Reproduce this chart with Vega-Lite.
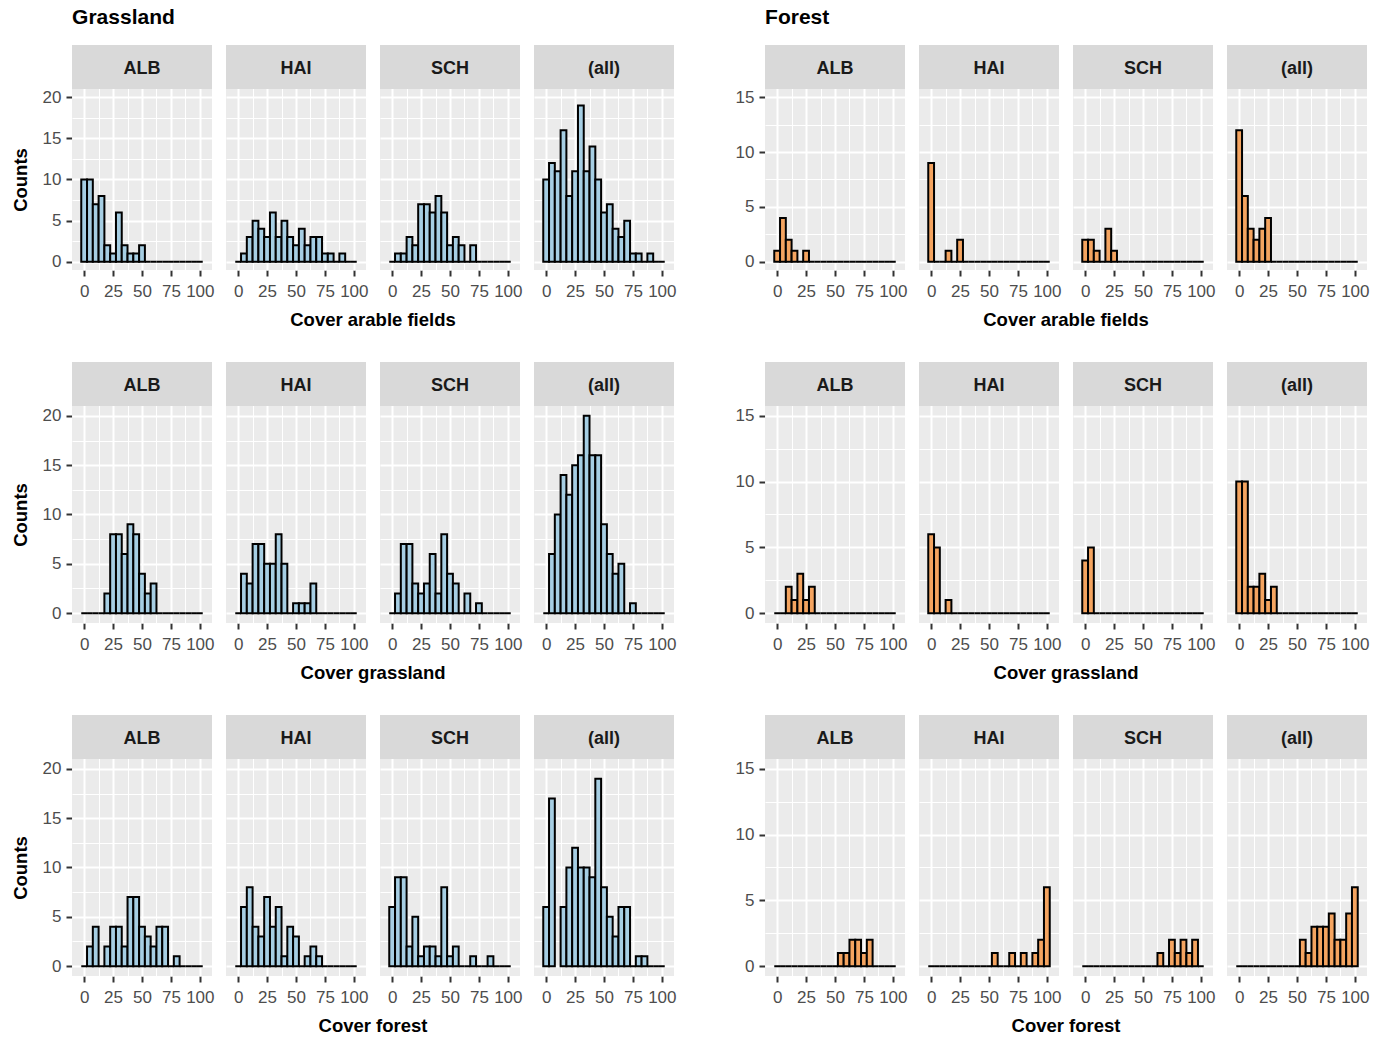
{
"$schema": "https://vega.github.io/schema/vega-lite/v6.json",
"padding": {"left": 11, "top": 7, "right": 5, "bottom": 5},
"data": {"values": [
{"plot":"Grassland","var":"arable","lo":-2.5,"hi":2.5,"ALB":10,"HAI":0,"SCH":0,"(all)":10},
{"plot":"Grassland","var":"arable","lo":2.5,"hi":7.5,"ALB":10,"HAI":1,"SCH":1,"(all)":12},
{"plot":"Grassland","var":"arable","lo":7.5,"hi":12.5,"ALB":7,"HAI":3,"SCH":1,"(all)":11},
{"plot":"Grassland","var":"arable","lo":12.5,"hi":17.5,"ALB":8,"HAI":5,"SCH":3,"(all)":16},
{"plot":"Grassland","var":"arable","lo":17.5,"hi":22.5,"ALB":2,"HAI":4,"SCH":2,"(all)":8},
{"plot":"Grassland","var":"arable","lo":22.5,"hi":27.5,"ALB":1,"HAI":3,"SCH":7,"(all)":11},
{"plot":"Grassland","var":"arable","lo":27.5,"hi":32.5,"ALB":6,"HAI":6,"SCH":7,"(all)":19},
{"plot":"Grassland","var":"arable","lo":32.5,"hi":37.5,"ALB":2,"HAI":3,"SCH":6,"(all)":11},
{"plot":"Grassland","var":"arable","lo":37.5,"hi":42.5,"ALB":1,"HAI":5,"SCH":8,"(all)":14},
{"plot":"Grassland","var":"arable","lo":42.5,"hi":47.5,"ALB":1,"HAI":3,"SCH":6,"(all)":10},
{"plot":"Grassland","var":"arable","lo":47.5,"hi":52.5,"ALB":2,"HAI":2,"SCH":2,"(all)":6},
{"plot":"Grassland","var":"arable","lo":52.5,"hi":57.5,"ALB":0,"HAI":4,"SCH":3,"(all)":7},
{"plot":"Grassland","var":"arable","lo":57.5,"hi":62.5,"ALB":0,"HAI":2,"SCH":2,"(all)":4},
{"plot":"Grassland","var":"arable","lo":62.5,"hi":67.5,"ALB":0,"HAI":3,"SCH":0,"(all)":3},
{"plot":"Grassland","var":"arable","lo":67.5,"hi":72.5,"ALB":0,"HAI":3,"SCH":2,"(all)":5},
{"plot":"Grassland","var":"arable","lo":72.5,"hi":77.5,"ALB":0,"HAI":1,"SCH":0,"(all)":1},
{"plot":"Grassland","var":"arable","lo":77.5,"hi":82.5,"ALB":0,"HAI":1,"SCH":0,"(all)":1},
{"plot":"Grassland","var":"arable","lo":82.5,"hi":87.5,"ALB":0,"HAI":0,"SCH":0,"(all)":0},
{"plot":"Grassland","var":"arable","lo":87.5,"hi":92.5,"ALB":0,"HAI":1,"SCH":0,"(all)":1},
{"plot":"Grassland","var":"arable","lo":92.5,"hi":97.5,"ALB":0,"HAI":0,"SCH":0,"(all)":0},
{"plot":"Grassland","var":"arable","lo":97.5,"hi":102.5,"ALB":0,"HAI":0,"SCH":0,"(all)":0},
{"plot":"Grassland","var":"grassland","lo":-2.5,"hi":2.5,"ALB":0,"HAI":0,"SCH":0,"(all)":0},
{"plot":"Grassland","var":"grassland","lo":2.5,"hi":7.5,"ALB":0,"HAI":4,"SCH":2,"(all)":6},
{"plot":"Grassland","var":"grassland","lo":7.5,"hi":12.5,"ALB":0,"HAI":3,"SCH":7,"(all)":10},
{"plot":"Grassland","var":"grassland","lo":12.5,"hi":17.5,"ALB":0,"HAI":7,"SCH":7,"(all)":14},
{"plot":"Grassland","var":"grassland","lo":17.5,"hi":22.5,"ALB":2,"HAI":7,"SCH":3,"(all)":12},
{"plot":"Grassland","var":"grassland","lo":22.5,"hi":27.5,"ALB":8,"HAI":5,"SCH":2,"(all)":15},
{"plot":"Grassland","var":"grassland","lo":27.5,"hi":32.5,"ALB":8,"HAI":5,"SCH":3,"(all)":16},
{"plot":"Grassland","var":"grassland","lo":32.5,"hi":37.5,"ALB":6,"HAI":8,"SCH":6,"(all)":20},
{"plot":"Grassland","var":"grassland","lo":37.5,"hi":42.5,"ALB":9,"HAI":5,"SCH":2,"(all)":16},
{"plot":"Grassland","var":"grassland","lo":42.5,"hi":47.5,"ALB":8,"HAI":0,"SCH":8,"(all)":16},
{"plot":"Grassland","var":"grassland","lo":47.5,"hi":52.5,"ALB":4,"HAI":1,"SCH":4,"(all)":9},
{"plot":"Grassland","var":"grassland","lo":52.5,"hi":57.5,"ALB":2,"HAI":1,"SCH":3,"(all)":6},
{"plot":"Grassland","var":"grassland","lo":57.5,"hi":62.5,"ALB":3,"HAI":1,"SCH":0,"(all)":4},
{"plot":"Grassland","var":"grassland","lo":62.5,"hi":67.5,"ALB":0,"HAI":3,"SCH":2,"(all)":5},
{"plot":"Grassland","var":"grassland","lo":67.5,"hi":72.5,"ALB":0,"HAI":0,"SCH":0,"(all)":0},
{"plot":"Grassland","var":"grassland","lo":72.5,"hi":77.5,"ALB":0,"HAI":0,"SCH":1,"(all)":1},
{"plot":"Grassland","var":"grassland","lo":77.5,"hi":82.5,"ALB":0,"HAI":0,"SCH":0,"(all)":0},
{"plot":"Grassland","var":"grassland","lo":82.5,"hi":87.5,"ALB":0,"HAI":0,"SCH":0,"(all)":0},
{"plot":"Grassland","var":"grassland","lo":87.5,"hi":92.5,"ALB":0,"HAI":0,"SCH":0,"(all)":0},
{"plot":"Grassland","var":"grassland","lo":92.5,"hi":97.5,"ALB":0,"HAI":0,"SCH":0,"(all)":0},
{"plot":"Grassland","var":"grassland","lo":97.5,"hi":102.5,"ALB":0,"HAI":0,"SCH":0,"(all)":0},
{"plot":"Grassland","var":"forest","lo":-2.5,"hi":2.5,"ALB":0,"HAI":0,"SCH":6,"(all)":6},
{"plot":"Grassland","var":"forest","lo":2.5,"hi":7.5,"ALB":2,"HAI":6,"SCH":9,"(all)":17},
{"plot":"Grassland","var":"forest","lo":7.5,"hi":12.5,"ALB":4,"HAI":8,"SCH":9,"(all)":21},
{"plot":"Grassland","var":"forest","lo":12.5,"hi":17.5,"ALB":0,"HAI":4,"SCH":2,"(all)":6},
{"plot":"Grassland","var":"forest","lo":17.5,"hi":22.5,"ALB":2,"HAI":3,"SCH":5,"(all)":10},
{"plot":"Grassland","var":"forest","lo":22.5,"hi":27.5,"ALB":4,"HAI":7,"SCH":1,"(all)":12},
{"plot":"Grassland","var":"forest","lo":27.5,"hi":32.5,"ALB":4,"HAI":4,"SCH":2,"(all)":10},
{"plot":"Grassland","var":"forest","lo":32.5,"hi":37.5,"ALB":2,"HAI":6,"SCH":2,"(all)":10},
{"plot":"Grassland","var":"forest","lo":37.5,"hi":42.5,"ALB":7,"HAI":1,"SCH":1,"(all)":9},
{"plot":"Grassland","var":"forest","lo":42.5,"hi":47.5,"ALB":7,"HAI":4,"SCH":8,"(all)":19},
{"plot":"Grassland","var":"forest","lo":47.5,"hi":52.5,"ALB":4,"HAI":3,"SCH":1,"(all)":8},
{"plot":"Grassland","var":"forest","lo":52.5,"hi":57.5,"ALB":3,"HAI":0,"SCH":2,"(all)":5},
{"plot":"Grassland","var":"forest","lo":57.5,"hi":62.5,"ALB":2,"HAI":1,"SCH":0,"(all)":3},
{"plot":"Grassland","var":"forest","lo":62.5,"hi":67.5,"ALB":4,"HAI":2,"SCH":0,"(all)":6},
{"plot":"Grassland","var":"forest","lo":67.5,"hi":72.5,"ALB":4,"HAI":1,"SCH":1,"(all)":6},
{"plot":"Grassland","var":"forest","lo":72.5,"hi":77.5,"ALB":0,"HAI":0,"SCH":0,"(all)":0},
{"plot":"Grassland","var":"forest","lo":77.5,"hi":82.5,"ALB":1,"HAI":0,"SCH":0,"(all)":1},
{"plot":"Grassland","var":"forest","lo":82.5,"hi":87.5,"ALB":0,"HAI":0,"SCH":1,"(all)":1},
{"plot":"Grassland","var":"forest","lo":87.5,"hi":92.5,"ALB":0,"HAI":0,"SCH":0,"(all)":0},
{"plot":"Grassland","var":"forest","lo":92.5,"hi":97.5,"ALB":0,"HAI":0,"SCH":0,"(all)":0},
{"plot":"Grassland","var":"forest","lo":97.5,"hi":102.5,"ALB":0,"HAI":0,"SCH":0,"(all)":0},
{"plot":"Forest","var":"arable","lo":-2.5,"hi":2.5,"ALB":1,"HAI":9,"SCH":2,"(all)":12},
{"plot":"Forest","var":"arable","lo":2.5,"hi":7.5,"ALB":4,"HAI":0,"SCH":2,"(all)":6},
{"plot":"Forest","var":"arable","lo":7.5,"hi":12.5,"ALB":2,"HAI":0,"SCH":1,"(all)":3},
{"plot":"Forest","var":"arable","lo":12.5,"hi":17.5,"ALB":1,"HAI":1,"SCH":0,"(all)":2},
{"plot":"Forest","var":"arable","lo":17.5,"hi":22.5,"ALB":0,"HAI":0,"SCH":3,"(all)":3},
{"plot":"Forest","var":"arable","lo":22.5,"hi":27.5,"ALB":1,"HAI":2,"SCH":1,"(all)":4},
{"plot":"Forest","var":"arable","lo":27.5,"hi":32.5,"ALB":0,"HAI":0,"SCH":0,"(all)":0},
{"plot":"Forest","var":"arable","lo":32.5,"hi":37.5,"ALB":0,"HAI":0,"SCH":0,"(all)":0},
{"plot":"Forest","var":"arable","lo":37.5,"hi":42.5,"ALB":0,"HAI":0,"SCH":0,"(all)":0},
{"plot":"Forest","var":"arable","lo":42.5,"hi":47.5,"ALB":0,"HAI":0,"SCH":0,"(all)":0},
{"plot":"Forest","var":"arable","lo":47.5,"hi":52.5,"ALB":0,"HAI":0,"SCH":0,"(all)":0},
{"plot":"Forest","var":"arable","lo":52.5,"hi":57.5,"ALB":0,"HAI":0,"SCH":0,"(all)":0},
{"plot":"Forest","var":"arable","lo":57.5,"hi":62.5,"ALB":0,"HAI":0,"SCH":0,"(all)":0},
{"plot":"Forest","var":"arable","lo":62.5,"hi":67.5,"ALB":0,"HAI":0,"SCH":0,"(all)":0},
{"plot":"Forest","var":"arable","lo":67.5,"hi":72.5,"ALB":0,"HAI":0,"SCH":0,"(all)":0},
{"plot":"Forest","var":"arable","lo":72.5,"hi":77.5,"ALB":0,"HAI":0,"SCH":0,"(all)":0},
{"plot":"Forest","var":"arable","lo":77.5,"hi":82.5,"ALB":0,"HAI":0,"SCH":0,"(all)":0},
{"plot":"Forest","var":"arable","lo":82.5,"hi":87.5,"ALB":0,"HAI":0,"SCH":0,"(all)":0},
{"plot":"Forest","var":"arable","lo":87.5,"hi":92.5,"ALB":0,"HAI":0,"SCH":0,"(all)":0},
{"plot":"Forest","var":"arable","lo":92.5,"hi":97.5,"ALB":0,"HAI":0,"SCH":0,"(all)":0},
{"plot":"Forest","var":"arable","lo":97.5,"hi":102.5,"ALB":0,"HAI":0,"SCH":0,"(all)":0},
{"plot":"Forest","var":"grassland","lo":-2.5,"hi":2.5,"ALB":0,"HAI":6,"SCH":4,"(all)":10},
{"plot":"Forest","var":"grassland","lo":2.5,"hi":7.5,"ALB":0,"HAI":5,"SCH":5,"(all)":10},
{"plot":"Forest","var":"grassland","lo":7.5,"hi":12.5,"ALB":2,"HAI":0,"SCH":0,"(all)":2},
{"plot":"Forest","var":"grassland","lo":12.5,"hi":17.5,"ALB":1,"HAI":1,"SCH":0,"(all)":2},
{"plot":"Forest","var":"grassland","lo":17.5,"hi":22.5,"ALB":3,"HAI":0,"SCH":0,"(all)":3},
{"plot":"Forest","var":"grassland","lo":22.5,"hi":27.5,"ALB":1,"HAI":0,"SCH":0,"(all)":1},
{"plot":"Forest","var":"grassland","lo":27.5,"hi":32.5,"ALB":2,"HAI":0,"SCH":0,"(all)":2},
{"plot":"Forest","var":"grassland","lo":32.5,"hi":37.5,"ALB":0,"HAI":0,"SCH":0,"(all)":0},
{"plot":"Forest","var":"grassland","lo":37.5,"hi":42.5,"ALB":0,"HAI":0,"SCH":0,"(all)":0},
{"plot":"Forest","var":"grassland","lo":42.5,"hi":47.5,"ALB":0,"HAI":0,"SCH":0,"(all)":0},
{"plot":"Forest","var":"grassland","lo":47.5,"hi":52.5,"ALB":0,"HAI":0,"SCH":0,"(all)":0},
{"plot":"Forest","var":"grassland","lo":52.5,"hi":57.5,"ALB":0,"HAI":0,"SCH":0,"(all)":0},
{"plot":"Forest","var":"grassland","lo":57.5,"hi":62.5,"ALB":0,"HAI":0,"SCH":0,"(all)":0},
{"plot":"Forest","var":"grassland","lo":62.5,"hi":67.5,"ALB":0,"HAI":0,"SCH":0,"(all)":0},
{"plot":"Forest","var":"grassland","lo":67.5,"hi":72.5,"ALB":0,"HAI":0,"SCH":0,"(all)":0},
{"plot":"Forest","var":"grassland","lo":72.5,"hi":77.5,"ALB":0,"HAI":0,"SCH":0,"(all)":0},
{"plot":"Forest","var":"grassland","lo":77.5,"hi":82.5,"ALB":0,"HAI":0,"SCH":0,"(all)":0},
{"plot":"Forest","var":"grassland","lo":82.5,"hi":87.5,"ALB":0,"HAI":0,"SCH":0,"(all)":0},
{"plot":"Forest","var":"grassland","lo":87.5,"hi":92.5,"ALB":0,"HAI":0,"SCH":0,"(all)":0},
{"plot":"Forest","var":"grassland","lo":92.5,"hi":97.5,"ALB":0,"HAI":0,"SCH":0,"(all)":0},
{"plot":"Forest","var":"grassland","lo":97.5,"hi":102.5,"ALB":0,"HAI":0,"SCH":0,"(all)":0},
{"plot":"Forest","var":"forest","lo":-2.5,"hi":2.5,"ALB":0,"HAI":0,"SCH":0,"(all)":0},
{"plot":"Forest","var":"forest","lo":2.5,"hi":7.5,"ALB":0,"HAI":0,"SCH":0,"(all)":0},
{"plot":"Forest","var":"forest","lo":7.5,"hi":12.5,"ALB":0,"HAI":0,"SCH":0,"(all)":0},
{"plot":"Forest","var":"forest","lo":12.5,"hi":17.5,"ALB":0,"HAI":0,"SCH":0,"(all)":0},
{"plot":"Forest","var":"forest","lo":17.5,"hi":22.5,"ALB":0,"HAI":0,"SCH":0,"(all)":0},
{"plot":"Forest","var":"forest","lo":22.5,"hi":27.5,"ALB":0,"HAI":0,"SCH":0,"(all)":0},
{"plot":"Forest","var":"forest","lo":27.5,"hi":32.5,"ALB":0,"HAI":0,"SCH":0,"(all)":0},
{"plot":"Forest","var":"forest","lo":32.5,"hi":37.5,"ALB":0,"HAI":0,"SCH":0,"(all)":0},
{"plot":"Forest","var":"forest","lo":37.5,"hi":42.5,"ALB":0,"HAI":0,"SCH":0,"(all)":0},
{"plot":"Forest","var":"forest","lo":42.5,"hi":47.5,"ALB":0,"HAI":0,"SCH":0,"(all)":0},
{"plot":"Forest","var":"forest","lo":47.5,"hi":52.5,"ALB":0,"HAI":0,"SCH":0,"(all)":0},
{"plot":"Forest","var":"forest","lo":52.5,"hi":57.5,"ALB":1,"HAI":1,"SCH":0,"(all)":2},
{"plot":"Forest","var":"forest","lo":57.5,"hi":62.5,"ALB":1,"HAI":0,"SCH":0,"(all)":1},
{"plot":"Forest","var":"forest","lo":62.5,"hi":67.5,"ALB":2,"HAI":0,"SCH":1,"(all)":3},
{"plot":"Forest","var":"forest","lo":67.5,"hi":72.5,"ALB":2,"HAI":1,"SCH":0,"(all)":3},
{"plot":"Forest","var":"forest","lo":72.5,"hi":77.5,"ALB":1,"HAI":0,"SCH":2,"(all)":3},
{"plot":"Forest","var":"forest","lo":77.5,"hi":82.5,"ALB":2,"HAI":1,"SCH":1,"(all)":4},
{"plot":"Forest","var":"forest","lo":82.5,"hi":87.5,"ALB":0,"HAI":0,"SCH":2,"(all)":2},
{"plot":"Forest","var":"forest","lo":87.5,"hi":92.5,"ALB":0,"HAI":1,"SCH":1,"(all)":2},
{"plot":"Forest","var":"forest","lo":92.5,"hi":97.5,"ALB":0,"HAI":2,"SCH":2,"(all)":4},
{"plot":"Forest","var":"forest","lo":97.5,"hi":102.5,"ALB":0,"HAI":6,"SCH":0,"(all)":6}
]},
"transform": [{"fold": ["ALB", "HAI", "SCH", "(all)"], "as": ["site", "count"]}],
"hconcat": [
{
"title": {"text": "Grassland", "dx": 61},
"spacing": 32,
"vconcat": [
{
"transform": [{"filter": "datum.plot == 'Grassland' && datum.var == 'arable' && datum.count <= 20"}],
"facet": {"column": {"field": "site", "type": "nominal", "sort": ["ALB", "HAI", "SCH", "(all)"], "title": "Cover arable fields", "header": {"labels": false, "titleOrient": "bottom"}}},
"spacing": 14,
"spec": {
"width": 140, "height": 225,
"layer": [
{"mark": {"type": "bar", "fill": "#A6CEE3", "stroke": "#000000", "strokeWidth": 2},
 "encoding": {
  "x": {"field": "lo", "type": "quantitative", "title": null, "scale": {"domain": [-10.5, 110.5], "nice": false, "zero": false},
        "axis": {"labelOverlap": false, "values": [0, 12.5, 25, 37.5, 50, 62.5, 75, 87.5, 100], "labelExpr": "datum.value % 25 == 0 ? datum.label : ''", "gridWidth": {"condition": {"test": "datum.value % 25 == 0", "value": 2}, "value": 1}, "tickOpacity": {"condition": {"test": "datum.value % 25 == 0", "value": 1}, "value": 0}}},
  "x2": {"field": "hi"},
  "y": {"field": "count", "type": "quantitative", "title": "Counts", "scale": {"domain": [-1, 26.348], "nice": false, "zero": false},
        "axis": {"titleY": 134.5, "values": [0, 2.5, 5, 7.5, 10, 12.5, 15, 17.5, 20], "labelExpr": "datum.value % 5 == 0 ? datum.label : ''", "gridWidth": {"condition": {"test": "datum.value % 5 == 0", "value": 2}, "value": 1}, "tickOpacity": {"condition": {"test": "datum.value % 5 == 0", "value": 1}, "value": 0}}},
  "y2": {"datum": 0}}},
{"transform": [{"aggregate": [{"op": "count", "as": "k"}], "groupby": ["site"]}],
 "mark": {"type": "rect", "fill": "#D9D9D9"},
 "encoding": {
  "x": {"datum": -10.5, "type": "quantitative", "title": null, "scale": {"domain": [-10.5, 110.5], "nice": false, "zero": false},
        "axis": {"labelOverlap": false, "values": [0, 12.5, 25, 37.5, 50, 62.5, 75, 87.5, 100], "labelExpr": "datum.value % 25 == 0 ? datum.label : ''", "gridWidth": {"condition": {"test": "datum.value % 25 == 0", "value": 2}, "value": 1}, "tickOpacity": {"condition": {"test": "datum.value % 25 == 0", "value": 1}, "value": 0}}},
  "x2": {"datum": 110.5},
  "y": {"datum": 21, "type": "quantitative", "title": "Counts", "scale": {"domain": [-1, 26.348], "nice": false, "zero": false},
        "axis": {"titleY": 134.5, "values": [0, 2.5, 5, 7.5, 10, 12.5, 15, 17.5, 20], "labelExpr": "datum.value % 5 == 0 ? datum.label : ''", "gridWidth": {"condition": {"test": "datum.value % 5 == 0", "value": 2}, "value": 1}, "tickOpacity": {"condition": {"test": "datum.value % 5 == 0", "value": 1}, "value": 0}}},
  "y2": {"datum": 26.348}}},
{"transform": [{"aggregate": [{"op": "count", "as": "k"}], "groupby": ["site"]}],
 "mark": {"type": "text", "fontSize": 18, "fontWeight": "bold", "color": "#1A1A1A", "font": "Liberation Sans", "dy": 2},
 "encoding": {
  "x": {"datum": 50, "type": "quantitative", "title": null, "scale": {"domain": [-10.5, 110.5], "nice": false, "zero": false},
        "axis": {"labelOverlap": false, "values": [0, 12.5, 25, 37.5, 50, 62.5, 75, 87.5, 100], "labelExpr": "datum.value % 25 == 0 ? datum.label : ''", "gridWidth": {"condition": {"test": "datum.value % 25 == 0", "value": 2}, "value": 1}, "tickOpacity": {"condition": {"test": "datum.value % 25 == 0", "value": 1}, "value": 0}}},
  "y": {"datum": 23.674, "type": "quantitative", "title": "Counts", "scale": {"domain": [-1, 26.348], "nice": false, "zero": false},
        "axis": {"titleY": 134.5, "values": [0, 2.5, 5, 7.5, 10, 12.5, 15, 17.5, 20], "labelExpr": "datum.value % 5 == 0 ? datum.label : ''", "gridWidth": {"condition": {"test": "datum.value % 5 == 0", "value": 2}, "value": 1}, "tickOpacity": {"condition": {"test": "datum.value % 5 == 0", "value": 1}, "value": 0}}},
  "text": {"field": "site", "type": "nominal"}}}
]}
},
{
"transform": [{"filter": "datum.plot == 'Grassland' && datum.var == 'grassland' && datum.count <= 20"}],
"facet": {"column": {"field": "site", "type": "nominal", "sort": ["ALB", "HAI", "SCH", "(all)"], "title": "Cover grassland", "header": {"labels": false, "titleOrient": "bottom"}}},
"spacing": 14,
"spec": {
"width": 140, "height": 261,
"layer": [
{"mark": {"type": "bar", "fill": "#A6CEE3", "stroke": "#000000", "strokeWidth": 2},
 "encoding": {
  "x": {"field": "lo", "type": "quantitative", "title": null, "scale": {"domain": [-10.5, 110.5], "nice": false, "zero": false},
        "axis": {"labelOverlap": false, "values": [0, 12.5, 25, 37.5, 50, 62.5, 75, 87.5, 100], "labelExpr": "datum.value % 25 == 0 ? datum.label : ''", "gridWidth": {"condition": {"test": "datum.value % 25 == 0", "value": 2}, "value": 1}, "tickOpacity": {"condition": {"test": "datum.value % 25 == 0", "value": 1}, "value": 0}}},
  "x2": {"field": "hi"},
  "y": {"field": "count", "type": "quantitative", "title": "Counts", "scale": {"domain": [-1, 25.46], "nice": false, "zero": false},
        "axis": {"titleY": 152.5, "values": [0, 2.5, 5, 7.5, 10, 12.5, 15, 17.5, 20], "labelExpr": "datum.value % 5 == 0 ? datum.label : ''", "gridWidth": {"condition": {"test": "datum.value % 5 == 0", "value": 2}, "value": 1}, "tickOpacity": {"condition": {"test": "datum.value % 5 == 0", "value": 1}, "value": 0}}},
  "y2": {"datum": 0}}},
{"transform": [{"aggregate": [{"op": "count", "as": "k"}], "groupby": ["site"]}],
 "mark": {"type": "rect", "fill": "#D9D9D9"},
 "encoding": {
  "x": {"datum": -10.5, "type": "quantitative", "title": null, "scale": {"domain": [-10.5, 110.5], "nice": false, "zero": false},
        "axis": {"labelOverlap": false, "values": [0, 12.5, 25, 37.5, 50, 62.5, 75, 87.5, 100], "labelExpr": "datum.value % 25 == 0 ? datum.label : ''", "gridWidth": {"condition": {"test": "datum.value % 25 == 0", "value": 2}, "value": 1}, "tickOpacity": {"condition": {"test": "datum.value % 25 == 0", "value": 1}, "value": 0}}},
  "x2": {"datum": 110.5},
  "y": {"datum": 21, "type": "quantitative", "title": "Counts", "scale": {"domain": [-1, 25.46], "nice": false, "zero": false},
        "axis": {"titleY": 152.5, "values": [0, 2.5, 5, 7.5, 10, 12.5, 15, 17.5, 20], "labelExpr": "datum.value % 5 == 0 ? datum.label : ''", "gridWidth": {"condition": {"test": "datum.value % 5 == 0", "value": 2}, "value": 1}, "tickOpacity": {"condition": {"test": "datum.value % 5 == 0", "value": 1}, "value": 0}}},
  "y2": {"datum": 25.46}}},
{"transform": [{"aggregate": [{"op": "count", "as": "k"}], "groupby": ["site"]}],
 "mark": {"type": "text", "fontSize": 18, "fontWeight": "bold", "color": "#1A1A1A", "font": "Liberation Sans", "dy": 2},
 "encoding": {
  "x": {"datum": 50, "type": "quantitative", "title": null, "scale": {"domain": [-10.5, 110.5], "nice": false, "zero": false},
        "axis": {"labelOverlap": false, "values": [0, 12.5, 25, 37.5, 50, 62.5, 75, 87.5, 100], "labelExpr": "datum.value % 25 == 0 ? datum.label : ''", "gridWidth": {"condition": {"test": "datum.value % 25 == 0", "value": 2}, "value": 1}, "tickOpacity": {"condition": {"test": "datum.value % 25 == 0", "value": 1}, "value": 0}}},
  "y": {"datum": 23.23, "type": "quantitative", "title": "Counts", "scale": {"domain": [-1, 25.46], "nice": false, "zero": false},
        "axis": {"titleY": 152.5, "values": [0, 2.5, 5, 7.5, 10, 12.5, 15, 17.5, 20], "labelExpr": "datum.value % 5 == 0 ? datum.label : ''", "gridWidth": {"condition": {"test": "datum.value % 5 == 0", "value": 2}, "value": 1}, "tickOpacity": {"condition": {"test": "datum.value % 5 == 0", "value": 1}, "value": 0}}},
  "text": {"field": "site", "type": "nominal"}}}
]}
},
{
"transform": [{"filter": "datum.plot == 'Grassland' && datum.var == 'forest' && datum.count <= 20"}],
"facet": {"column": {"field": "site", "type": "nominal", "sort": ["ALB", "HAI", "SCH", "(all)"], "title": "Cover forest", "header": {"labels": false, "titleOrient": "bottom"}}},
"spacing": 14,
"spec": {
"width": 140, "height": 261,
"layer": [
{"mark": {"type": "bar", "fill": "#A6CEE3", "stroke": "#000000", "strokeWidth": 2},
 "encoding": {
  "x": {"field": "lo", "type": "quantitative", "title": null, "scale": {"domain": [-10.5, 110.5], "nice": false, "zero": false},
        "axis": {"labelOverlap": false, "values": [0, 12.5, 25, 37.5, 50, 62.5, 75, 87.5, 100], "labelExpr": "datum.value % 25 == 0 ? datum.label : ''", "gridWidth": {"condition": {"test": "datum.value % 25 == 0", "value": 2}, "value": 1}, "tickOpacity": {"condition": {"test": "datum.value % 25 == 0", "value": 1}, "value": 0}}},
  "x2": {"field": "hi"},
  "y": {"field": "count", "type": "quantitative", "title": "Counts", "scale": {"domain": [-1, 25.46], "nice": false, "zero": false},
        "axis": {"titleY": 152.5, "values": [0, 2.5, 5, 7.5, 10, 12.5, 15, 17.5, 20], "labelExpr": "datum.value % 5 == 0 ? datum.label : ''", "gridWidth": {"condition": {"test": "datum.value % 5 == 0", "value": 2}, "value": 1}, "tickOpacity": {"condition": {"test": "datum.value % 5 == 0", "value": 1}, "value": 0}}},
  "y2": {"datum": 0}}},
{"transform": [{"aggregate": [{"op": "count", "as": "k"}], "groupby": ["site"]}],
 "mark": {"type": "rect", "fill": "#D9D9D9"},
 "encoding": {
  "x": {"datum": -10.5, "type": "quantitative", "title": null, "scale": {"domain": [-10.5, 110.5], "nice": false, "zero": false},
        "axis": {"labelOverlap": false, "values": [0, 12.5, 25, 37.5, 50, 62.5, 75, 87.5, 100], "labelExpr": "datum.value % 25 == 0 ? datum.label : ''", "gridWidth": {"condition": {"test": "datum.value % 25 == 0", "value": 2}, "value": 1}, "tickOpacity": {"condition": {"test": "datum.value % 25 == 0", "value": 1}, "value": 0}}},
  "x2": {"datum": 110.5},
  "y": {"datum": 21, "type": "quantitative", "title": "Counts", "scale": {"domain": [-1, 25.46], "nice": false, "zero": false},
        "axis": {"titleY": 152.5, "values": [0, 2.5, 5, 7.5, 10, 12.5, 15, 17.5, 20], "labelExpr": "datum.value % 5 == 0 ? datum.label : ''", "gridWidth": {"condition": {"test": "datum.value % 5 == 0", "value": 2}, "value": 1}, "tickOpacity": {"condition": {"test": "datum.value % 5 == 0", "value": 1}, "value": 0}}},
  "y2": {"datum": 25.46}}},
{"transform": [{"aggregate": [{"op": "count", "as": "k"}], "groupby": ["site"]}],
 "mark": {"type": "text", "fontSize": 18, "fontWeight": "bold", "color": "#1A1A1A", "font": "Liberation Sans", "dy": 2},
 "encoding": {
  "x": {"datum": 50, "type": "quantitative", "title": null, "scale": {"domain": [-10.5, 110.5], "nice": false, "zero": false},
        "axis": {"labelOverlap": false, "values": [0, 12.5, 25, 37.5, 50, 62.5, 75, 87.5, 100], "labelExpr": "datum.value % 25 == 0 ? datum.label : ''", "gridWidth": {"condition": {"test": "datum.value % 25 == 0", "value": 2}, "value": 1}, "tickOpacity": {"condition": {"test": "datum.value % 25 == 0", "value": 1}, "value": 0}}},
  "y": {"datum": 23.23, "type": "quantitative", "title": "Counts", "scale": {"domain": [-1, 25.46], "nice": false, "zero": false},
        "axis": {"titleY": 152.5, "values": [0, 2.5, 5, 7.5, 10, 12.5, 15, 17.5, 20], "labelExpr": "datum.value % 5 == 0 ? datum.label : ''", "gridWidth": {"condition": {"test": "datum.value % 5 == 0", "value": 2}, "value": 1}, "tickOpacity": {"condition": {"test": "datum.value % 5 == 0", "value": 1}, "value": 0}}},
  "text": {"field": "site", "type": "nominal"}}}
]}
}
]
},
{
"title": {"text": "Forest", "dx": 30},
"spacing": 32,
"vconcat": [
{
"transform": [{"filter": "datum.plot == 'Forest' && datum.var == 'arable' && datum.count <= 15"}],
"facet": {"column": {"field": "site", "type": "nominal", "sort": ["ALB", "HAI", "SCH", "(all)"], "title": "Cover arable fields", "header": {"labels": false, "titleOrient": "bottom"}}},
"spacing": 14,
"spec": {
"width": 140, "height": 225,
"layer": [
{"mark": {"type": "bar", "fill": "#F4A460", "stroke": "#000000", "strokeWidth": 2},
 "encoding": {
  "x": {"field": "lo", "type": "quantitative", "title": null, "scale": {"domain": [-10.5, 110.5], "nice": false, "zero": false},
        "axis": {"labelOverlap": false, "values": [0, 12.5, 25, 37.5, 50, 62.5, 75, 87.5, 100], "labelExpr": "datum.value % 25 == 0 ? datum.label : ''", "gridWidth": {"condition": {"test": "datum.value % 25 == 0", "value": 2}, "value": 1}, "tickOpacity": {"condition": {"test": "datum.value % 25 == 0", "value": 1}, "value": 0}}},
  "x2": {"field": "hi"},
  "y": {"field": "count", "type": "quantitative", "title": null, "scale": {"domain": [-0.75, 19.761], "nice": false, "zero": false},
        "axis": {"values": [0, 2.5, 5, 7.5, 10, 12.5, 15], "labelExpr": "datum.value % 5 == 0 ? datum.label : ''", "gridWidth": {"condition": {"test": "datum.value % 5 == 0", "value": 2}, "value": 1}, "tickOpacity": {"condition": {"test": "datum.value % 5 == 0", "value": 1}, "value": 0}}},
  "y2": {"datum": 0}}},
{"transform": [{"aggregate": [{"op": "count", "as": "k"}], "groupby": ["site"]}],
 "mark": {"type": "rect", "fill": "#D9D9D9"},
 "encoding": {
  "x": {"datum": -10.5, "type": "quantitative", "title": null, "scale": {"domain": [-10.5, 110.5], "nice": false, "zero": false},
        "axis": {"labelOverlap": false, "values": [0, 12.5, 25, 37.5, 50, 62.5, 75, 87.5, 100], "labelExpr": "datum.value % 25 == 0 ? datum.label : ''", "gridWidth": {"condition": {"test": "datum.value % 25 == 0", "value": 2}, "value": 1}, "tickOpacity": {"condition": {"test": "datum.value % 25 == 0", "value": 1}, "value": 0}}},
  "x2": {"datum": 110.5},
  "y": {"datum": 15.75, "type": "quantitative", "title": null, "scale": {"domain": [-0.75, 19.761], "nice": false, "zero": false},
        "axis": {"values": [0, 2.5, 5, 7.5, 10, 12.5, 15], "labelExpr": "datum.value % 5 == 0 ? datum.label : ''", "gridWidth": {"condition": {"test": "datum.value % 5 == 0", "value": 2}, "value": 1}, "tickOpacity": {"condition": {"test": "datum.value % 5 == 0", "value": 1}, "value": 0}}},
  "y2": {"datum": 19.761}}},
{"transform": [{"aggregate": [{"op": "count", "as": "k"}], "groupby": ["site"]}],
 "mark": {"type": "text", "fontSize": 18, "fontWeight": "bold", "color": "#1A1A1A", "font": "Liberation Sans", "dy": 2},
 "encoding": {
  "x": {"datum": 50, "type": "quantitative", "title": null, "scale": {"domain": [-10.5, 110.5], "nice": false, "zero": false},
        "axis": {"labelOverlap": false, "values": [0, 12.5, 25, 37.5, 50, 62.5, 75, 87.5, 100], "labelExpr": "datum.value % 25 == 0 ? datum.label : ''", "gridWidth": {"condition": {"test": "datum.value % 25 == 0", "value": 2}, "value": 1}, "tickOpacity": {"condition": {"test": "datum.value % 25 == 0", "value": 1}, "value": 0}}},
  "y": {"datum": 17.756, "type": "quantitative", "title": null, "scale": {"domain": [-0.75, 19.761], "nice": false, "zero": false},
        "axis": {"values": [0, 2.5, 5, 7.5, 10, 12.5, 15], "labelExpr": "datum.value % 5 == 0 ? datum.label : ''", "gridWidth": {"condition": {"test": "datum.value % 5 == 0", "value": 2}, "value": 1}, "tickOpacity": {"condition": {"test": "datum.value % 5 == 0", "value": 1}, "value": 0}}},
  "text": {"field": "site", "type": "nominal"}}}
]}
},
{
"transform": [{"filter": "datum.plot == 'Forest' && datum.var == 'grassland' && datum.count <= 15"}],
"facet": {"column": {"field": "site", "type": "nominal", "sort": ["ALB", "HAI", "SCH", "(all)"], "title": "Cover grassland", "header": {"labels": false, "titleOrient": "bottom"}}},
"spacing": 14,
"spec": {
"width": 140, "height": 261,
"layer": [
{"mark": {"type": "bar", "fill": "#F4A460", "stroke": "#000000", "strokeWidth": 2},
 "encoding": {
  "x": {"field": "lo", "type": "quantitative", "title": null, "scale": {"domain": [-10.5, 110.5], "nice": false, "zero": false},
        "axis": {"labelOverlap": false, "values": [0, 12.5, 25, 37.5, 50, 62.5, 75, 87.5, 100], "labelExpr": "datum.value % 25 == 0 ? datum.label : ''", "gridWidth": {"condition": {"test": "datum.value % 25 == 0", "value": 2}, "value": 1}, "tickOpacity": {"condition": {"test": "datum.value % 25 == 0", "value": 1}, "value": 0}}},
  "x2": {"field": "hi"},
  "y": {"field": "count", "type": "quantitative", "title": null, "scale": {"domain": [-0.75, 19.095], "nice": false, "zero": false},
        "axis": {"values": [0, 2.5, 5, 7.5, 10, 12.5, 15], "labelExpr": "datum.value % 5 == 0 ? datum.label : ''", "gridWidth": {"condition": {"test": "datum.value % 5 == 0", "value": 2}, "value": 1}, "tickOpacity": {"condition": {"test": "datum.value % 5 == 0", "value": 1}, "value": 0}}},
  "y2": {"datum": 0}}},
{"transform": [{"aggregate": [{"op": "count", "as": "k"}], "groupby": ["site"]}],
 "mark": {"type": "rect", "fill": "#D9D9D9"},
 "encoding": {
  "x": {"datum": -10.5, "type": "quantitative", "title": null, "scale": {"domain": [-10.5, 110.5], "nice": false, "zero": false},
        "axis": {"labelOverlap": false, "values": [0, 12.5, 25, 37.5, 50, 62.5, 75, 87.5, 100], "labelExpr": "datum.value % 25 == 0 ? datum.label : ''", "gridWidth": {"condition": {"test": "datum.value % 25 == 0", "value": 2}, "value": 1}, "tickOpacity": {"condition": {"test": "datum.value % 25 == 0", "value": 1}, "value": 0}}},
  "x2": {"datum": 110.5},
  "y": {"datum": 15.75, "type": "quantitative", "title": null, "scale": {"domain": [-0.75, 19.095], "nice": false, "zero": false},
        "axis": {"values": [0, 2.5, 5, 7.5, 10, 12.5, 15], "labelExpr": "datum.value % 5 == 0 ? datum.label : ''", "gridWidth": {"condition": {"test": "datum.value % 5 == 0", "value": 2}, "value": 1}, "tickOpacity": {"condition": {"test": "datum.value % 5 == 0", "value": 1}, "value": 0}}},
  "y2": {"datum": 19.095}}},
{"transform": [{"aggregate": [{"op": "count", "as": "k"}], "groupby": ["site"]}],
 "mark": {"type": "text", "fontSize": 18, "fontWeight": "bold", "color": "#1A1A1A", "font": "Liberation Sans", "dy": 2},
 "encoding": {
  "x": {"datum": 50, "type": "quantitative", "title": null, "scale": {"domain": [-10.5, 110.5], "nice": false, "zero": false},
        "axis": {"labelOverlap": false, "values": [0, 12.5, 25, 37.5, 50, 62.5, 75, 87.5, 100], "labelExpr": "datum.value % 25 == 0 ? datum.label : ''", "gridWidth": {"condition": {"test": "datum.value % 25 == 0", "value": 2}, "value": 1}, "tickOpacity": {"condition": {"test": "datum.value % 25 == 0", "value": 1}, "value": 0}}},
  "y": {"datum": 17.42, "type": "quantitative", "title": null, "scale": {"domain": [-0.75, 19.095], "nice": false, "zero": false},
        "axis": {"values": [0, 2.5, 5, 7.5, 10, 12.5, 15], "labelExpr": "datum.value % 5 == 0 ? datum.label : ''", "gridWidth": {"condition": {"test": "datum.value % 5 == 0", "value": 2}, "value": 1}, "tickOpacity": {"condition": {"test": "datum.value % 5 == 0", "value": 1}, "value": 0}}},
  "text": {"field": "site", "type": "nominal"}}}
]}
},
{
"transform": [{"filter": "datum.plot == 'Forest' && datum.var == 'forest' && datum.count <= 15"}],
"facet": {"column": {"field": "site", "type": "nominal", "sort": ["ALB", "HAI", "SCH", "(all)"], "title": "Cover forest", "header": {"labels": false, "titleOrient": "bottom"}}},
"spacing": 14,
"spec": {
"width": 140, "height": 261,
"layer": [
{"mark": {"type": "bar", "fill": "#F4A460", "stroke": "#000000", "strokeWidth": 2},
 "encoding": {
  "x": {"field": "lo", "type": "quantitative", "title": null, "scale": {"domain": [-10.5, 110.5], "nice": false, "zero": false},
        "axis": {"labelOverlap": false, "values": [0, 12.5, 25, 37.5, 50, 62.5, 75, 87.5, 100], "labelExpr": "datum.value % 25 == 0 ? datum.label : ''", "gridWidth": {"condition": {"test": "datum.value % 25 == 0", "value": 2}, "value": 1}, "tickOpacity": {"condition": {"test": "datum.value % 25 == 0", "value": 1}, "value": 0}}},
  "x2": {"field": "hi"},
  "y": {"field": "count", "type": "quantitative", "title": null, "scale": {"domain": [-0.75, 19.095], "nice": false, "zero": false},
        "axis": {"values": [0, 2.5, 5, 7.5, 10, 12.5, 15], "labelExpr": "datum.value % 5 == 0 ? datum.label : ''", "gridWidth": {"condition": {"test": "datum.value % 5 == 0", "value": 2}, "value": 1}, "tickOpacity": {"condition": {"test": "datum.value % 5 == 0", "value": 1}, "value": 0}}},
  "y2": {"datum": 0}}},
{"transform": [{"aggregate": [{"op": "count", "as": "k"}], "groupby": ["site"]}],
 "mark": {"type": "rect", "fill": "#D9D9D9"},
 "encoding": {
  "x": {"datum": -10.5, "type": "quantitative", "title": null, "scale": {"domain": [-10.5, 110.5], "nice": false, "zero": false},
        "axis": {"labelOverlap": false, "values": [0, 12.5, 25, 37.5, 50, 62.5, 75, 87.5, 100], "labelExpr": "datum.value % 25 == 0 ? datum.label : ''", "gridWidth": {"condition": {"test": "datum.value % 25 == 0", "value": 2}, "value": 1}, "tickOpacity": {"condition": {"test": "datum.value % 25 == 0", "value": 1}, "value": 0}}},
  "x2": {"datum": 110.5},
  "y": {"datum": 15.75, "type": "quantitative", "title": null, "scale": {"domain": [-0.75, 19.095], "nice": false, "zero": false},
        "axis": {"values": [0, 2.5, 5, 7.5, 10, 12.5, 15], "labelExpr": "datum.value % 5 == 0 ? datum.label : ''", "gridWidth": {"condition": {"test": "datum.value % 5 == 0", "value": 2}, "value": 1}, "tickOpacity": {"condition": {"test": "datum.value % 5 == 0", "value": 1}, "value": 0}}},
  "y2": {"datum": 19.095}}},
{"transform": [{"aggregate": [{"op": "count", "as": "k"}], "groupby": ["site"]}],
 "mark": {"type": "text", "fontSize": 18, "fontWeight": "bold", "color": "#1A1A1A", "font": "Liberation Sans", "dy": 2},
 "encoding": {
  "x": {"datum": 50, "type": "quantitative", "title": null, "scale": {"domain": [-10.5, 110.5], "nice": false, "zero": false},
        "axis": {"labelOverlap": false, "values": [0, 12.5, 25, 37.5, 50, 62.5, 75, 87.5, 100], "labelExpr": "datum.value % 25 == 0 ? datum.label : ''", "gridWidth": {"condition": {"test": "datum.value % 25 == 0", "value": 2}, "value": 1}, "tickOpacity": {"condition": {"test": "datum.value % 25 == 0", "value": 1}, "value": 0}}},
  "y": {"datum": 17.42, "type": "quantitative", "title": null, "scale": {"domain": [-0.75, 19.095], "nice": false, "zero": false},
        "axis": {"values": [0, 2.5, 5, 7.5, 10, 12.5, 15], "labelExpr": "datum.value % 5 == 0 ? datum.label : ''", "gridWidth": {"condition": {"test": "datum.value % 5 == 0", "value": 2}, "value": 1}, "tickOpacity": {"condition": {"test": "datum.value % 5 == 0", "value": 1}, "value": 0}}},
  "text": {"field": "site", "type": "nominal"}}}
]}
}
]
}
],
"spacing": 58,
"config": {
"font": "Liberation Sans",
"view": {"fill": "#EBEBEB", "stroke": null},
"axis": {"domain": false, "gridColor": "#FFFFFF", "labelColor": "#4D4D4D", "labelFontSize": 17, "labelFont": "Liberation Sans", "tickColor": "#333333", "tickSize": 6, "tickWidth": 2, "labelPadding": 5, "labelFlush": false, "labelOverlap": false, "titleFontSize": 18.5, "titleFontWeight": "bold", "titleColor": "#000000", "titleFont": "Liberation Sans", "titlePadding": 8},
"axisX": {"labelPadding": 7},
"axisY": {"titlePadding": 12},
"header": {"titleFontSize": 18.5, "titleFontWeight": "bold", "titleColor": "#000000", "titleFont": "Liberation Sans", "titlePadding": 2},
"title": {"fontSize": 21, "fontWeight": "bold", "anchor": "start", "color": "#000000", "font": "Liberation Sans", "offset": 17}
}
}
